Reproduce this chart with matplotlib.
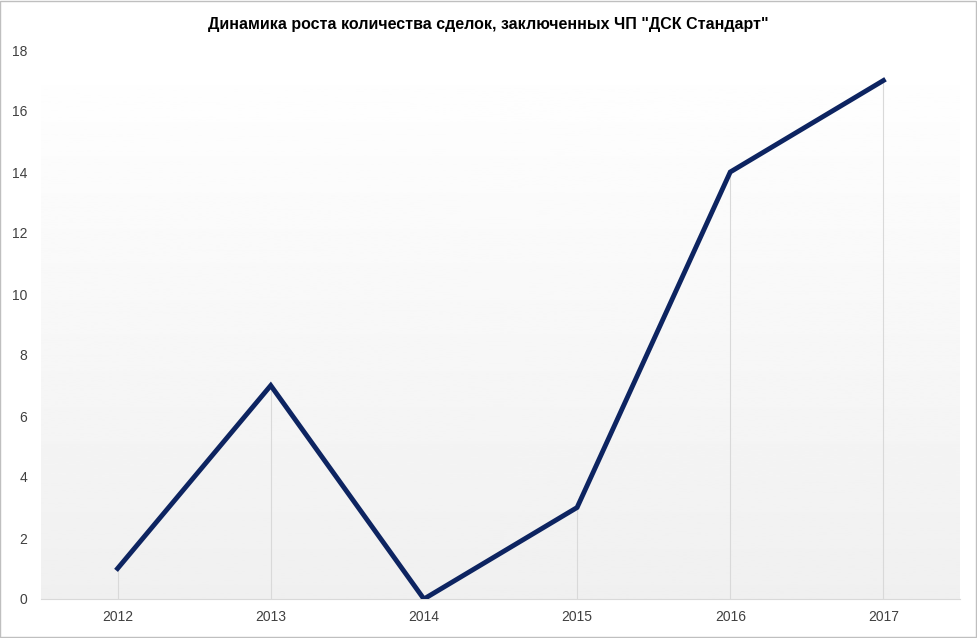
import matplotlib
matplotlib.use("Agg")
import matplotlib.pyplot as plt
import numpy as np

years = ["2012", "2013", "2014", "2015", "2016", "2017"]
deals = [1, 7, 0, 3, 14, 17]
title = 'Динамика роста количества сделок, заключенных ЧП "ДСК Стандарт"'

plt.rcParams['font.family'] = ['Liberation Sans', 'DejaVu Sans']
fig = plt.figure(figsize=(9.77, 6.38), dpi=100)
fig.patch.set_facecolor('white')
ax = fig.add_axes([41/977, 39/638, 919/977, 549/638])
x = np.arange(len(years))
ax.set_xlim(-0.5, len(years) - 0.5)
ax.set_ylim(0, 18)

grad = np.linspace(0.94, 1.0, 256).reshape(-1, 1)
ax.imshow(grad, cmap='gray', vmin=0, vmax=1, aspect='auto',
          extent=[-0.5, len(years) - 0.5, 0, 18], origin='lower', zorder=0)

ax.vlines(x, 0, deals, colors='#d9d9d9', linewidth=0.8, zorder=1)
ax.plot(x, deals, color='#0d2461', linewidth=3.5, solid_joinstyle='miter', zorder=3)

ax.set_xticks(x)
ax.set_xticklabels(years)
ax.set_yticks(range(0, 19, 2))
ax.tick_params(length=0, labelsize=10, colors='#404040')
ax.tick_params(axis='y', pad=10)
ax.tick_params(axis='x', pad=8)
for s in ['top', 'right', 'left']:
    ax.spines[s].set_visible(False)
ax.spines['bottom'].set_color('#d9d9d9')
fig.text(0.5, 1 - 24/638, title, ha='center', va='center', fontsize=11.5, fontweight='bold', color='#000000')
fig.add_artist(plt.Rectangle((0.0005, 0.0008), 0.998, 0.998, transform=fig.transFigure,
                             fill=False, edgecolor='#bfbfbf', linewidth=1))
fig.savefig('out.png', dpi=100)
